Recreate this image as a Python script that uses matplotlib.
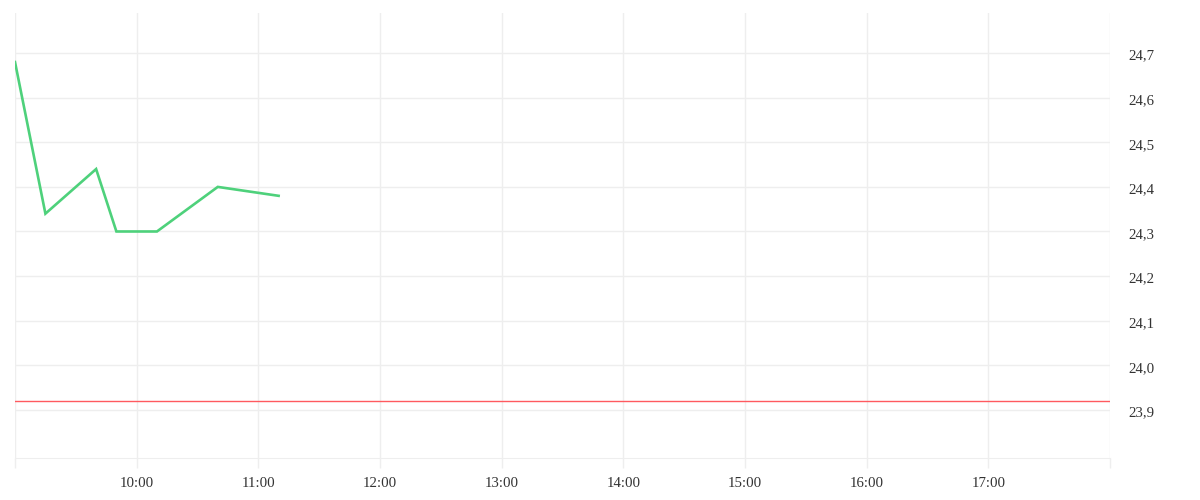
import pandas as pd
import matplotlib.pyplot as plt
import matplotlib.dates as mdates
import matplotlib.transforms as mtrans
from matplotlib.ticker import FuncFormatter

# price points
times = ["09:00", "09:15", "09:40", "09:50", "10:10", "10:40", "11:10"]
prices = [24.68, 24.34, 24.44, 24.30, 24.30, 24.40, 24.38]

# previous close (red reference line)
ref_price = 23.92

day = "2024-01-02 "
t = pd.to_datetime([day + s for s in times])
t_start = pd.to_datetime(day + "09:00")
t_end = pd.to_datetime(day + "18:00")

plt.rcParams['font.family'] = ['Liberation Serif', 'DejaVu Serif']

fig = plt.figure(figsize=(12, 5), dpi=100)
ax = fig.add_axes([0.0125, 0.084, 0.9125, 0.89])

grid_c = '#eeeeee'

ax.plot(t, prices, color='#4ed17b', linewidth=1.9, solid_joinstyle='miter', zorder=3)
ax.axhline(ref_price, color='#ff5a5f', linewidth=1.0, zorder=2)

ax.set_xlim(t_start, t_end)
ax.set_ylim(23.792, 24.79)

ax.xaxis.set_major_locator(mdates.HourLocator())
def xfmt(x, pos):
    d = mdates.num2date(x)
    if d.hour in (9, 18):
        return ""
    return d.strftime("%H:%M")
ax.xaxis.set_major_formatter(FuncFormatter(xfmt))

ax.set_yticks([23.9, 24.0, 24.1, 24.2, 24.3, 24.4, 24.5, 24.6, 24.7])
ax.yaxis.set_major_formatter(FuncFormatter(lambda v, p: f"{v:.1f}".replace(".", ",")))
ax.yaxis.tick_right()

ax.grid(True, color=grid_c, linewidth=1.0)
for s in ['top', 'left', 'right']:
    ax.spines[s].set_visible(False)
ax.spines['bottom'].set_color(grid_c)

ax.tick_params(axis='x', length=7.5, color=grid_c, width=1.0, pad=6,
               labelsize=10.7, labelcolor='#333333')
ax.tick_params(axis='y', length=0, pad=13, labelsize=10.7, labelcolor='#333333')
shift = mtrans.ScaledTranslation(0, -3 / 100, fig.dpi_scale_trans)
for lbl in ax.get_yticklabels():
    lbl.set_horizontalalignment('left')
    lbl.set_verticalalignment('center')
    lbl.set_transform(lbl.get_transform() + shift)

plt.savefig("out.png", dpi=100)
